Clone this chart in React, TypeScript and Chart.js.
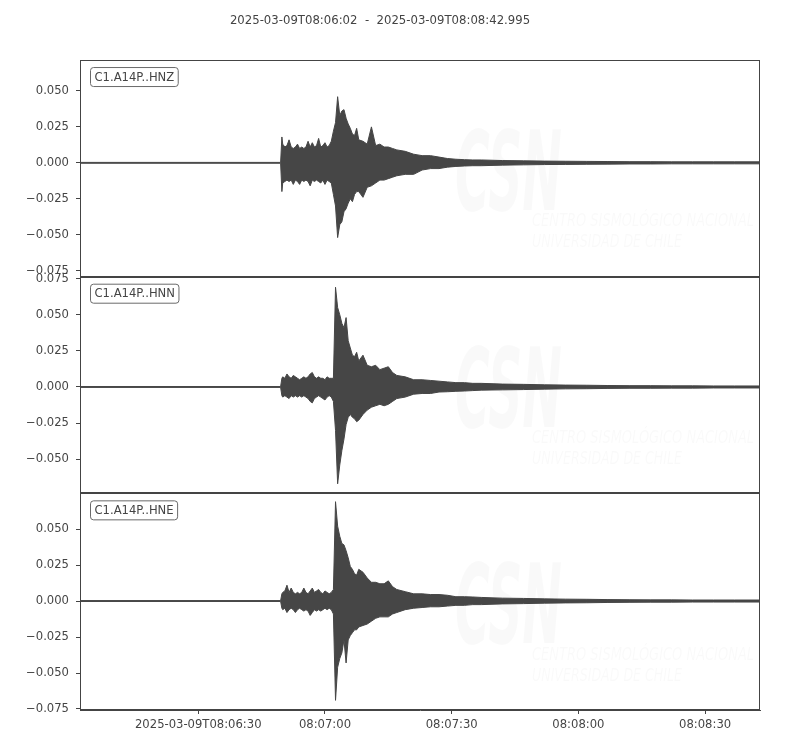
import React, { useEffect, useRef } from "react";
import { Chart, registerables } from "chart.js";

Chart.register(...registerables);

const TITLE = "2025-03-09T08:06:02  -  2025-03-09T08:08:42.995";
const traceNames = ["C1.A14P..HNZ", "C1.A14P..HNN", "C1.A14P..HNE"];

// x ticks, seconds after 08:06:02
const xTickSeconds = [28, 58, 88, 118, 148];
const xTickLabels = ["2025-03-09T08:06:30", "08:07:00", "08:07:30", "08:08:00", "08:08:30"];

// envelope sample times (s after 08:06:02)
const timeSec = [
  0, 47.5, 47.8,
  48, 48.5, 49, 49.5, 50, 50.5, 51, 51.5, 52, 52.5, 53, 53.5, 54, 54.5, 55, 55.5, 56, 56.5,
  57, 57.5, 58, 58.5, 59, 59.5, 60, 60.5, 61, 61.5, 62, 62.5, 63, 63.5, 64, 64.5, 65, 65.5, 66,
  67, 68, 69, 70, 71, 72, 73, 74, 75,
  77, 79, 81, 83, 85, 87, 89, 91, 93, 95,
  100, 105, 110, 115, 120, 125, 130, 135, 140, 145, 150, 155,
  161,
];

// HNZ envelope (upper / lower)
const hnzUpper = [
  0.0003, 0.0003, 0.018,
  0.013, 0.011, 0.012, 0.016, 0.011, 0.01, 0.011, 0.013, 0.01, 0.011, 0.01, 0.011, 0.015, 0.011, 0.014, 0.011, 0.012, 0.017,
  0.011, 0.012, 0.014, 0.011, 0.012, 0.015, 0.022, 0.028, 0.046, 0.033, 0.036, 0.037, 0.031, 0.027, 0.024, 0.02, 0.019, 0.024, 0.016,
  0.015, 0.013, 0.025, 0.012, 0.013, 0.011, 0.011, 0.01, 0.009,
  0.008, 0.006, 0.005, 0.005, 0.004, 0.003, 0.0025, 0.0022, 0.002, 0.002,
  0.0016, 0.0014, 0.0012, 0.0011, 0.001, 0.0009, 0.0008, 0.0008, 0.0007, 0.0007, 0.0007, 0.0007,
  0.0007,
];
const hnzLower = [
  -0.0003, -0.0003, -0.02,
  -0.014, -0.013, -0.012, -0.013, -0.012, -0.015, -0.012, -0.013, -0.015, -0.012, -0.013, -0.012, -0.013, -0.016, -0.012, -0.013, -0.012, -0.013,
  -0.014, -0.012, -0.015, -0.012, -0.013, -0.014, -0.022, -0.03, -0.052, -0.043, -0.041, -0.034, -0.032, -0.028, -0.025, -0.027, -0.022, -0.02, -0.02,
  -0.024, -0.017, -0.016, -0.014, -0.012, -0.012, -0.011, -0.01, -0.009,
  -0.008, -0.008, -0.005, -0.004, -0.004, -0.003, -0.0025, -0.0022, -0.002, -0.002,
  -0.0016, -0.0014, -0.0012, -0.0011, -0.001, -0.0009, -0.0008, -0.0008, -0.0007, -0.0007, -0.0007, -0.0007,
  -0.0007,
];

// HNN envelope (upper / lower)
const hnnUpper = [
  0.0003, 0.0003, 0.006,
  0.007, 0.006, 0.009, 0.007, 0.006, 0.008, 0.007, 0.006, 0.005, 0.006, 0.007, 0.006, 0.007, 0.009, 0.01, 0.007, 0.006, 0.007,
  0.006, 0.006, 0.005, 0.007, 0.006, 0.006, 0.006, 0.069, 0.055, 0.05, 0.044, 0.041, 0.048, 0.032, 0.027, 0.022, 0.021, 0.024, 0.018,
  0.022, 0.015, 0.014, 0.015, 0.012, 0.013, 0.014, 0.01, 0.008,
  0.007, 0.005, 0.005, 0.0045, 0.004, 0.0035, 0.003, 0.003, 0.0025, 0.0025,
  0.002, 0.0018, 0.0015, 0.0013, 0.0012, 0.001, 0.0009, 0.0009, 0.0008, 0.0008, 0.0007, 0.0007,
  0.0007,
];
const hnnLower = [
  -0.0003, -0.0003, -0.006,
  -0.007, -0.006, -0.007, -0.008, -0.006, -0.007, -0.006, -0.007, -0.006, -0.007, -0.006, -0.007, -0.008, -0.01, -0.011, -0.008, -0.007, -0.006,
  -0.007, -0.008, -0.009, -0.007, -0.006, -0.007, -0.01, -0.03, -0.067, -0.054, -0.044, -0.036, -0.026, -0.021, -0.019, -0.021, -0.022, -0.024, -0.023,
  -0.019, -0.016, -0.014, -0.013, -0.012, -0.013, -0.012, -0.01, -0.008,
  -0.007, -0.005, -0.0045, -0.0045, -0.0035, -0.0033, -0.003, -0.0028, -0.0025, -0.0022,
  -0.002, -0.0018, -0.0015, -0.0013, -0.0012, -0.001, -0.0009, -0.0009, -0.0008, -0.0008, -0.0007, -0.0007,
  -0.0007,
];

// HNE envelope (upper / lower)
const hneUpper = [
  0.0003, 0.0003, 0.005,
  0.006, 0.007, 0.011, 0.006, 0.009, 0.006, 0.005, 0.006, 0.005, 0.006, 0.009, 0.006, 0.005, 0.007, 0.009, 0.006, 0.007, 0.008,
  0.006, 0.005, 0.007, 0.006, 0.005, 0.006, 0.008, 0.069, 0.052, 0.045, 0.04, 0.039, 0.035, 0.03, 0.024, 0.022, 0.019, 0.018, 0.022,
  0.02, 0.016, 0.013, 0.013, 0.012, 0.012, 0.014, 0.01, 0.008,
  0.0065, 0.005, 0.005, 0.0045, 0.0045, 0.004, 0.003, 0.003, 0.0028, 0.0025,
  0.002, 0.0018, 0.0015, 0.0013, 0.0012, 0.001, 0.0009, 0.0008, 0.0008, 0.0007, 0.0007, 0.0007,
  0.0007,
];
const hneLower = [
  -0.0003, -0.0003, -0.005,
  -0.006, -0.005, -0.008, -0.006, -0.005, -0.006, -0.008, -0.006, -0.005, -0.006, -0.007, -0.006, -0.007, -0.01, -0.008, -0.006, -0.007, -0.006,
  -0.007, -0.006, -0.005, -0.006, -0.005, -0.006, -0.009, -0.069, -0.046, -0.04, -0.036, -0.027, -0.043, -0.027, -0.024, -0.022, -0.02, -0.02, -0.018,
  -0.017, -0.016, -0.014, -0.012, -0.011, -0.011, -0.011, -0.009, -0.008,
  -0.006, -0.005, -0.0045, -0.004, -0.004, -0.0035, -0.003, -0.003, -0.0025, -0.0025,
  -0.002, -0.0018, -0.0015, -0.0013, -0.0012, -0.001, -0.0009, -0.0008, -0.0008, -0.0007, -0.0007, -0.0007,
  -0.0007,
];

const INK = "#444444";
const WAVE = "#464646";
const FONT_PX = 11.6;
const panelIds = ["yZ", "yN", "yE"];

const toPoints = (vals: number[]) => timeSec.map((t, i) => ({ x: t, y: vals[i] }));

const fmtY = (v: number | string) => {
  const n = Number(v);
  if (Math.abs(n) < 1e-9) return "0.000";
  return n.toFixed(3).replace("-", "\u2212");
};

const yAxis = (min: number, max: number) => ({
  type: "linear" as const,
  position: "left" as const,
  stack: "traces",
  stackWeight: 1,
  min,
  max,
  afterFit: (s: any) => {
    s.width = 80;
  },
  border: { display: true, color: INK, width: 1 },
  grid: { drawOnChartArea: false, drawTicks: true, tickLength: 4, color: INK },
  ticks: {
    stepSize: 0.025,
    includeBounds: false,
    padding: 7,
    color: INK,
    font: { size: FONT_PX },
    callback: fmtY,
  },
});

// frames, station labels and the faint watermark in each panel
const panelPlugin = {
  id: "panels",
  beforeDatasetsDraw(chart: any) {
    const { ctx, chartArea } = chart;
    ctx.save();
    ctx.fillStyle = "rgba(0,0,0,0.022)";
    for (const id of panelIds) {
      const s = chart.scales[id];
      const x0 = chartArea.left + 375;
      ctx.save();
      ctx.textBaseline = "alphabetic";
      ctx.font = "italic bold 110px 'DejaVu Sans'";
      const w = ctx.measureText("CSN").width;
      ctx.translate(x0, s.top + 150);
      ctx.scale(107 / w, 1);
      ctx.fillText("CSN", 0, 0);
      ctx.restore();
      ctx.font = "italic 17px 'DejaVu Sans'";
      ctx.textBaseline = "middle";
      ctx.fillText("CENTRO SISMOLÓGICO NACIONAL", x0 + 77, s.top + 162, 222);
      ctx.fillText("UNIVERSIDAD DE CHILE", x0 + 77, s.top + 183, 150);
    }
    ctx.restore();
  },
  afterDatasetsDraw(chart: any) {
    const { ctx, chartArea } = chart;
    ctx.save();
    ctx.lineWidth = 1;
    const left = Math.round(chartArea.left) + 0.5;
    const right = Math.round(chartArea.right) - 0.5;
    panelIds.forEach((id, i) => {
      const s = chart.scales[id];
      const top = Math.round(s.top) + 0.5;
      const bottom = Math.round(s.bottom) - 0.5;
      ctx.strokeStyle = INK;
      ctx.strokeRect(left, top, right - left, bottom - top);

      ctx.font = `${FONT_PX}px 'DejaVu Sans'`;
      const tw = ctx.measureText(traceNames[i]).width;
      const bx = chartArea.left + 10.5;
      const by = s.top + 7.5;
      ctx.beginPath();
      ctx.roundRect(bx, by, tw + 8, 19, 3);
      ctx.fillStyle = "#ffffff";
      ctx.fill();
      ctx.strokeStyle = "#6a6a6a";
      ctx.stroke();
      ctx.fillStyle = INK;
      ctx.textBaseline = "middle";
      ctx.textAlign = "left";
      ctx.fillText(traceNames[i], bx + 4, by + 10);
    });
    ctx.restore();
  },
};

export default function App() {
  const canvasRef = useRef<HTMLCanvasElement>(null);

  useEffect(() => {
    document.body.style.margin = "0";
    const ctx = canvasRef.current?.getContext("2d");
    if (!ctx) return;

    Chart.defaults.font.family = "'DejaVu Sans', sans-serif";
    Chart.defaults.font.size = FONT_PX;
    Chart.defaults.color = INK;

    const band = (upper: number[], lower: number[], axis: string) => [
      {
        data: toPoints(upper),
        yAxisID: axis,
        borderColor: WAVE,
        backgroundColor: WAVE,
        borderWidth: 1,
        pointRadius: 0,
        tension: 0,
        fill: "+1",
      },
      {
        data: toPoints(lower),
        yAxisID: axis,
        borderColor: WAVE,
        backgroundColor: WAVE,
        borderWidth: 1,
        pointRadius: 0,
        tension: 0,
        fill: false,
      },
    ];

    const chart = new Chart(ctx, {
      type: "line",
      data: {
        datasets: [
          ...band(hnzUpper, hnzLower, "yZ"),
          ...band(hnnUpper, hnnLower, "yN"),
          ...band(hneUpper, hneLower, "yE"),
        ] as any,
      },
      options: {
        responsive: false,
        animation: false,
        layout: { padding: { top: 0, right: 40, bottom: 0, left: 0 } },
        plugins: {
          legend: { display: false },
          tooltip: { enabled: false },
          title: {
            display: true,
            text: TITLE,
            color: INK,
            font: { size: 11.7, weight: "normal" },
            padding: { top: 14, bottom: 32 },
          },
        },
        scales: {
          x: {
            type: "linear",
            min: 0,
            max: 161,
            afterFit: (s: any) => {
              s.height = 40;
            },
            afterBuildTicks: (s: any) => {
              s.ticks = xTickSeconds.map((v) => ({ value: v }));
            },
            border: { display: true, color: INK, width: 1 },
            grid: { drawOnChartArea: false, drawTicks: true, tickLength: 4, color: INK },
            ticks: {
              autoSkip: false,
              maxRotation: 0,
              padding: 4,
              color: INK,
              font: { size: FONT_PX },
              callback: (v: any) => xTickLabels[xTickSeconds.indexOf(Number(v))] ?? "",
            },
          },
          yE: yAxis(-0.0757, 0.0748),
          yN: yAxis(-0.0736, 0.0763),
          yZ: yAxis(-0.0792, 0.0715),
        } as any,
      },
      plugins: [panelPlugin],
    });

    return () => chart.destroy();
  }, []);

  return (
    <div style={{ width: 800, height: 750, background: "#ffffff" }}>
      <canvas ref={canvasRef} width={800} height={750} style={{ display: "block" }} />
    </div>
  );
}
